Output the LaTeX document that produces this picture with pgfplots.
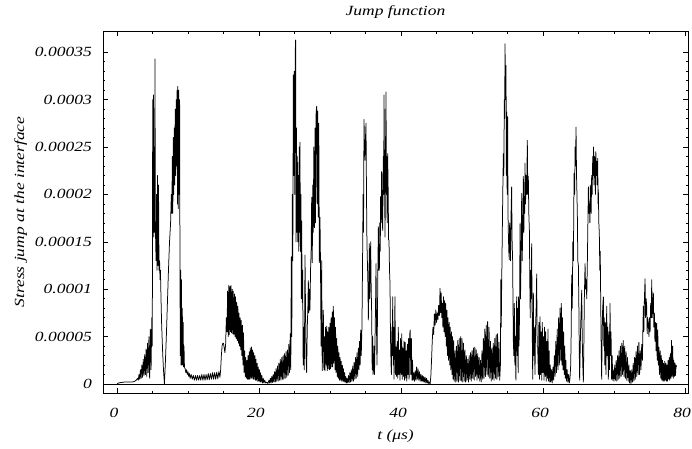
\documentclass[border=0pt]{standalone}
\usepackage{pgfplots}
\pgfplotsset{compat=1.18}
\usepackage{fontspec}
\setmainfont{Liberation Serif}[FakeStretch=1.25]
\begin{document}
\fontsize{14}{16}\selectfont
\begin{tikzpicture}
\begin{axis}[
  scale only axis, width=585pt, height=362pt,
  xmin=-1.97, xmax=80.42, ymin=-0.95e-5, ymax=37.24e-5,
  axis line style={black, line width=0.6pt},
  xtick={0,20,40,60,80}, xticklabels={0,20,40,60,80},
  minor x tick num=3,
  ytick={0,5e-5,10e-5,15e-5,20e-5,25e-5,30e-5,35e-5},
  yticklabels={0,0.00005,0.0001,0.00015,0.0002,0.00025,0.0003,0.00035},
  minor y tick num=4,
  scaled y ticks=false, scaled x ticks=false,
  tick align=inside, major tick length=5pt, minor tick length=2.5pt,
  tick style={black, line width=0.5pt},
  ticklabel style={font=\itshape},
  xticklabel style={anchor=base, inner sep=0pt, yshift=-24pt, xshift=-3pt},
  yticklabel style={anchor=east, inner sep=0pt, xshift=-11pt},
  title={Jump function},
  title style={font=\itshape, at={(rel axis cs:0.5,1)}, anchor=base, yshift=9pt},
  xlabel={t (μs)},
  xlabel style={font=\itshape, at={(rel axis cs:0.5,0)}, anchor=base, yshift=-46pt},
  ylabel={Stress jump at the interface},
  ylabel style={font=\itshape, at={(axis description cs:-0.135,0.5)}, anchor=base},
  extra y ticks={0}, extra y tick labels={},
  extra y tick style={grid=major, major grid style={black, line width=0.6pt}},
  clip=true,
]
\coordinate (ll) at (rel axis cs:0,0);
\coordinate (ur) at (rel axis cs:1,1);
\addplot[black, line width=0.75pt, line join=round] coordinates {
(0,0) (0.2,0.1e-5) (0.5,0.15e-5) (1.0,0.2e-5) (1.5,0.2e-5) (2.0,0.2e-5) (2.4,0.25e-5) (2.7,0.4e-5) (2.9,0.6e-5) (3.0,0.4e-5)
(3.1,1.0e-5) (3.2,0.5e-5) (3.3,1.5e-5) (3.4,0.6e-5) (3.5,2.0e-5) (3.6,0.7e-5) (3.7,2.6e-5) (3.8,0.9e-5) (3.9,3.1e-5) (4.0,1.0e-5) (4.1,3.7e-5) (4.2,0.8e-5) (4.3,4.3e-5) (4.4,1.2e-5) (4.5,5.0e-5) (4.6,0.6e-5) (4.7,5.8e-5) (4.8,1.5e-5) (4.9,7.0e-5)
(4.97,4e-5) (5.0,15e-5) (5.03,30e-5) (5.08,16e-5) (5.13,30.5e-5) (5.18,15.5e-5) (5.25,25e-5) (5.3,16e-5) (5.35,34.3e-5) (5.4,17e-5) (5.5,13e-5) (5.58,20e-5) (5.65,12e-5) (5.7,22e-5) (5.78,12.5e-5) (5.85,21e-5) (5.92,12e-5) (6.0,13e-5) (6.06,11e-5) (6.12,12e-5) (6.2,9e-5) (6.28,6.5e-5) (6.35,5e-5) (6.45,3e-5) (6.55,1.5e-5) (6.68,0)
(6.8,2e-5) (6.95,5e-5) (7.1,8.5e-5) (7.25,12e-5) (7.4,15e-5) (7.55,17e-5) (7.65,20e-5) (7.72,18e-5) (7.8,24e-5) (7.86,18e-5) (7.93,26e-5) (8.0,20e-5) (8.07,27e-5) (8.14,21e-5) (8.2,29e-5) (8.27,22e-5) (8.34,30e-5) (8.4,23e-5) (8.47,31e-5) (8.52,19e-5) (8.57,31.4e-5) (8.63,18.5e-5) (8.7,31e-5) (8.76,20e-5) (8.82,30e-5) (8.87,12e-5) (8.92,3e-5) (8.97,12e-5) (9.02,2e-5) (9.08,11e-5) (9.13,2e-5) (9.2,8e-5) (9.26,2e-5) (9.32,6.5e-5) (9.38,1.8e-5) (9.44,4e-5) (9.5,1.8e-5)
(9.6,1.6e-5) (9.7,1.2e-5) (9.8,1.5e-5) (9.9,1.0e-5) (10.0,1.3e-5) (10.1,0.8e-5) (10.2,1.1e-5) (10.3,0.6e-5) (10.45,1.0e-5) (10.6,0.5e-5) (10.75,0.9e-5) (10.9,0.4e-5) (11.05,0.9e-5) (11.2,0.4e-5) (11.35,0.9e-5) (11.5,0.4e-5) (11.65,0.9e-5) (11.8,0.4e-5) (11.95,1.0e-5) (12.1,0.4e-5) (12.25,1.0e-5) (12.4,0.4e-5) (12.55,1.0e-5) (12.7,0.45e-5) (12.85,1.1e-5) (13.0,0.45e-5) (13.15,1.1e-5) (13.3,0.5e-5) (13.45,1.2e-5) (13.6,0.5e-5) (13.75,1.2e-5) (13.9,0.5e-5) (14.05,1.25e-5) (14.2,0.55e-5) (14.35,1.3e-5) (14.5,0.7e-5)
(14.6,1.5e-5) (14.7,3.0e-5) (14.8,4.0e-5) (14.9,4.3e-5) (15.0,4.3e-5) (15.1,3.8e-5) (15.2,3.3e-5) (15.3,4.2e-5) (15.4,7e-5)
(15.5,5.5e-5) (15.58,9.8e-5) (15.66,5e-5) (15.74,10.4e-5) (15.82,5.2e-5) (15.9,10.3e-5) (15.98,5.5e-5) (16.06,10.4e-5) (16.14,5.4e-5) (16.22,10.0e-5) (16.3,5.3e-5) (16.38,9.8e-5) (16.46,5.2e-5) (16.54,9.5e-5) (16.62,5.0e-5) (16.7,9.2e-5) (16.78,4.8e-5) (16.86,8.6e-5) (16.94,4.6e-5) (17.02,8.2e-5) (17.1,4.3e-5) (17.18,7.5e-5) (17.26,4.0e-5) (17.34,7.0e-5) (17.42,3.6e-5) (17.5,6.7e-5) (17.58,3.0e-5) (17.66,6.2e-5) (17.74,2.0e-5) (17.82,5.4e-5) (17.9,1.2e-5)
(17.98,3.5e-5) (18.06,0.8e-5) (18.14,2.8e-5) (18.22,0.6e-5) (18.3,2.5e-5) (18.38,0.5e-5) (18.46,3.0e-5) (18.54,0.5e-5) (18.62,3.4e-5) (18.7,0.5e-5) (18.78,3.8e-5) (18.86,0.6e-5) (18.94,3.9e-5) (19.02,0.6e-5) (19.1,3.6e-5) (19.18,0.5e-5) (19.26,3.3e-5) (19.34,0.5e-5) (19.42,3.0e-5) (19.5,0.4e-5) (19.58,2.6e-5) (19.66,0.4e-5) (19.74,2.2e-5) (19.82,0.3e-5) (19.9,1.8e-5) (19.98,0.3e-5) (20.06,1.5e-5) (20.14,0.2e-5) (20.22,1.2e-5) (20.3,0.2e-5) (20.4,0.9e-5) (20.5,0.1e-5) (20.6,0.6e-5) (20.7,0.1e-5) (20.8,0.4e-5) (20.95,0.1e-5) (21.1,0.2e-5) (21.25,0.05e-5)
(21.4,0.4e-5) (21.5,0.1e-5) (21.6,0.6e-5) (21.7,0.1e-5) (21.8,0.8e-5) (21.9,0.15e-5) (22.0,1.0e-5) (22.1,0.2e-5) (22.2,1.3e-5) (22.3,0.2e-5) (22.4,1.6e-5) (22.5,0.3e-5) (22.6,1.9e-5) (22.7,0.3e-5) (22.8,2.2e-5) (22.9,0.4e-5) (23.0,2.6e-5) (23.1,0.4e-5) (23.2,2.8e-5) (23.3,0.5e-5) (23.4,3.0e-5) (23.5,0.5e-5) (23.6,3.2e-5) (23.7,0.6e-5) (23.8,3.4e-5) (23.9,0.7e-5) (24.0,3.6e-5) (24.1,0.9e-5) (24.2,4.2e-5) (24.3,1.2e-5) (24.4,5.3e-5) (24.48,1.5e-5)
(24.55,13.4e-5) (24.62,5e-5) (24.7,20e-5) (24.76,13e-5) (24.84,32.6e-5) (24.9,22e-5) (24.97,33e-5) (25.03,20e-5) (25.1,35e-5) (25.16,36.3e-5) (25.22,15e-5) (25.28,27e-5) (25.34,16e-5) (25.4,24e-5) (25.47,15e-5) (25.54,22e-5) (25.6,14e-5) (25.66,25e-5) (25.72,16e-5) (25.77,25.5e-5) (25.83,14e-5) (25.9,20e-5) (25.96,9e-5) (26.01,17.2e-5) (26.08,8.6e-5) (26.15,12e-5) (26.22,2e-5) (26.3,6e-5) (26.38,1.5e-5) (26.44,8e-5) (26.48,13.6e-5) (26.55,8e-5) (26.62,3e-5) (26.71,1.2e-5) (26.8,6e-5) (26.88,8e-5) (26.95,10.9e-5) (27.02,7.5e-5) (27.1,10e-5) (27.18,7.8e-5) (27.26,12e-5) (27.34,14e-5) (27.42,19.7e-5) (27.5,12.8e-5) (27.58,21e-5) (27.65,16e-5) (27.72,25e-5) (27.8,16.5e-5) (27.89,27e-5) (27.96,17e-5) (28.04,28.5e-5) (28.12,29.3e-5) (28.2,19e-5) (28.28,28.8e-5) (28.36,17.6e-5) (28.42,27.5e-5) (28.5,12.8e-5) (28.59,17.6e-5) (28.66,12.8e-5) (28.74,4e-5) (28.83,13e-5) (28.9,1.4e-5) (28.98,4e-5) (29.06,7.8e-5) (29.14,1.5e-5) (29.22,5e-5) (29.3,1.4e-5) (29.38,6e-5) (29.46,2e-5) (29.53,6.1e-5) (29.6,1.4e-5) (29.68,5.5e-5) (29.76,1.6e-5) (29.84,6.0e-5) (29.92,1.5e-5) (30.0,6.4e-5) (30.08,1.6e-5) (30.16,7.0e-5) (30.24,1.8e-5) (30.32,7.6e-5) (30.4,1.8e-5) (30.47,8.2e-5) (30.54,2.2e-5) (30.62,7.0e-5) (30.7,1.5e-5) (30.78,6.0e-5) (30.86,1.2e-5) (30.94,4.8e-5) (31.02,0.8e-5) (31.1,4.0e-5) (31.18,0.6e-5) (31.26,3.3e-5) (31.34,0.4e-5) (31.42,2.8e-5) (31.5,0.4e-5) (31.58,2.4e-5) (31.66,0.3e-5) (31.74,2.0e-5) (31.82,0.3e-5) (31.9,1.6e-5) (31.98,0.2e-5) (32.06,1.2e-5) (32.14,0.2e-5) (32.22,0.8e-5)
(32.3,0.1e-5) (32.4,0.6e-5) (32.5,0.1e-5) (32.6,0.9e-5) (32.7,0.15e-5) (32.8,1.2e-5) (32.9,0.2e-5) (33.0,1.5e-5) (33.1,0.3e-5) (33.2,1.9e-5) (33.3,0.3e-5) (33.4,2.3e-5) (33.5,0.5e-5) (33.6,2.8e-5) (33.7,0.6e-5) (33.8,3.3e-5) (33.9,0.8e-5) (34.0,3.8e-5) (34.08,1.5e-5) (34.16,4.5e-5) (34.24,2.0e-5) (34.32,5.7e-5)
(34.4,3e-5) (34.5,6e-5) (34.59,13.4e-5) (34.66,20e-5) (34.72,16e-5) (34.79,27.9e-5) (34.86,25e-5) (34.93,23.6e-5) (35.0,26e-5) (35.07,27.5e-5) (35.14,20e-5) (35.2,15e-5) (35.26,13.1e-5) (35.33,11.0e-5) (35.4,6.75e-5) (35.47,10e-5) (35.54,14.8e-5) (35.6,9e-5) (35.67,12e-5) (35.73,15.0e-5) (35.8,10e-5) (35.87,7.5e-5) (35.94,1.5e-5) (36.01,5.0e-5) (36.06,1.0e-5) (36.13,1.5e-5) (36.2,4e-5) (36.27,1.0e-5) (36.34,4.6e-5) (36.41,8e-5) (36.48,12.7e-5) (36.55,6e-5) (36.62,2e-5) (36.66,5.0e-5) (36.74,12e-5) (36.81,16.6e-5) (36.88,12e-5) (36.95,12.0e-5) (37.02,17e-5) (37.08,14e-5) (37.13,19.8e-5) (37.2,17e-5) (37.27,22.4e-5) (37.35,18e-5) (37.42,16.2e-5) (37.5,24e-5) (37.56,20e-5) (37.61,30.5e-5) (37.68,22e-5) (37.75,15.5e-5) (37.82,25e-5) (37.89,30.8e-5) (37.94,20e-5) (37.98,24e-5) (38.05,17e-5) (38.12,24.3e-5) (38.2,20e-5) (38.25,15.2e-5) (38.31,15.2e-5) (38.38,12e-5) (38.45,10.6e-5) (38.52,5e-5) (38.59,2.2e-5) (38.65,1e-5) (38.72,6e-5) (38.78,3e-5) (38.83,9.2e-5) (38.9,2e-5) (38.96,6e-5) (39.02,0.5e-5) (39.09,5e-5) (39.15,9.2e-5) (39.22,1e-5) (39.3,3.9e-5)
(39.38,0.8e-5) (39.46,4.5e-5) (39.54,0.6e-5) (39.62,6.0e-5) (39.7,1e-5) (39.78,3.6e-5) (39.86,0.4e-5) (39.94,4.8e-5) (40.02,1.0e-5) (40.1,5.3e-5) (40.18,0.5e-5) (40.26,3.8e-5) (40.34,0.8e-5) (40.42,4.5e-5) (40.5,0.4e-5) (40.58,4.4e-5) (40.66,0.6e-5) (40.74,3.5e-5) (40.82,0.3e-5) (40.9,4.2e-5) (40.98,1.0e-5) (41.06,4.8e-5) (41.14,0.5e-5) (41.22,5.2e-5) (41.3,5.7e-5) (41.38,1.0e-5) (41.46,4.8e-5) (41.54,0.4e-5) (41.62,2.5e-5) (41.7,0.4e-5)
(41.8,1.2e-5) (41.9,0.3e-5) (42.0,1.4e-5) (42.1,0.4e-5) (42.2,1.8e-5) (42.3,0.5e-5) (42.4,1.6e-5) (42.5,0.4e-5) (42.6,1.3e-5) (42.7,0.3e-5) (42.8,1.0e-5) (42.9,0.3e-5) (43.0,0.9e-5) (43.1,0.2e-5) (43.2,0.8e-5) (43.3,0.2e-5) (43.4,0.7e-5) (43.5,0.1e-5) (43.6,0.6e-5) (43.7,0.1e-5) (43.8,0.4e-5) (43.9,0.05e-5) (44.0,0.2e-5) (44.1,0)
(44.2,0.8e-5) (44.3,2.5e-5) (44.4,4.5e-5) (44.5,6e-5) (44.6,5.2e-5) (44.7,7.4e-5) (44.8,6.2e-5) (44.9,7.8e-5) (45.0,6.5e-5) (45.1,7.5e-5) (45.2,6.8e-5) (45.3,8.3e-5) (45.4,7.2e-5) (45.5,10.1e-5) (45.58,7.5e-5) (45.66,9.6e-5) (45.74,7e-5) (45.82,8.5e-5) (45.9,6e-5) (45.98,9.2e-5) (46.06,5.5e-5) (46.14,8.8e-5) (46.22,5e-5) (46.3,8.5e-5) (46.38,4e-5) (46.46,7.8e-5) (46.54,3e-5) (46.62,7.0e-5) (46.7,2.5e-5) (46.78,6.5e-5) (46.86,2e-5) (46.94,6.0e-5) (47.02,1.5e-5) (47.1,5.5e-5) (47.18,1.0e-5) (47.26,5.0e-5) (47.34,0.5e-5) (47.42,4.6e-5)
(47.5,0.3e-5) (47.6,3.5e-5) (47.7,0.2e-5) (47.8,4.0e-5) (47.9,0.3e-5) (48.0,4.6e-5) (48.1,0.2e-5) (48.2,4.8e-5) (48.3,0.4e-5) (48.4,5.0e-5) (48.5,0.3e-5) (48.6,4.8e-5) (48.7,0.2e-5) (48.8,4.3e-5) (48.9,0.3e-5) (49.0,3.6e-5) (49.1,0.2e-5) (49.2,3.0e-5) (49.3,0.4e-5) (49.4,2.6e-5) (49.5,0.2e-5) (49.6,3.0e-5) (49.7,0.5e-5) (49.8,3.3e-5) (49.9,0.3e-5) (50.0,3.5e-5) (50.1,0.6e-5) (50.2,3.8e-5) (50.3,0.4e-5) (50.4,3.9e-5) (50.5,0.8e-5) (50.6,3.6e-5) (50.7,0.4e-5) (50.8,3.2e-5) (50.9,0.6e-5) (51.0,2.8e-5) (51.1,0.3e-5) (51.2,2.5e-5) (51.3,0.2e-5) (51.4,3.5e-5) (51.5,0.5e-5) (51.6,4.8e-5) (51.7,0.6e-5) (51.8,5.8e-5) (51.9,0.8e-5) (52.0,6.2e-5) (52.1,1.0e-5) (52.2,6.6e-5) (52.3,0.8e-5) (52.4,6.0e-5) (52.5,0.6e-5) (52.6,4.5e-5) (52.7,0.3e-5) (52.8,3.8e-5) (52.9,0.5e-5) (53.0,4.3e-5) (53.1,0.4e-5) (53.2,4.8e-5) (53.3,0.6e-5) (53.4,5.2e-5) (53.5,0.5e-5) (53.6,5.3e-5) (53.7,0.8e-5) (53.8,4.4e-5) (53.9,0.4e-5)
(54.0,2e-5) (54.06,11.0e-5) (54.12,6e-5) (54.17,9.9e-5) (54.25,15e-5) (54.33,20e-5) (54.41,24.3e-5) (54.48,22e-5) (54.55,30e-5) (54.6,28e-5) (54.65,35.9e-5) (54.72,30e-5) (54.79,33.6e-5) (54.84,22e-5) (54.88,28.7e-5) (54.95,20e-5) (55.02,28.2e-5) (55.07,18e-5) (55.11,16.2e-5) (55.18,14e-5) (55.25,13.1e-5) (55.3,17e-5) (55.35,16.2e-5) (55.42,13e-5) (55.5,18e-5) (55.58,20.8e-5) (55.65,15e-5) (55.72,13.1e-5) (55.78,8e-5) (55.82,4.6e-5) (55.89,3e-5) (55.96,8.5e-5) (56.04,2e-5) (56.1,5e-5) (56.18,0.4e-5) (56.24,6e-5) (56.29,9.2e-5) (56.36,3e-5) (56.43,8e-5) (56.5,1.2e-5) (56.56,9.2e-5) (56.62,4e-5) (56.67,6.2e-5) (56.72,10e-5) (56.76,16.9e-5) (56.83,9e-5) (56.9,12.7e-5) (56.95,17e-5) (57.0,20.1e-5) (57.07,13e-5) (57.14,16.2e-5) (57.19,19e-5) (57.23,21.9e-5) (57.3,16e-5) (57.37,19.8e-5) (57.42,18e-5) (57.46,23.3e-5) (57.54,19e-5) (57.61,22e-5) (57.7,20e-5) (57.79,25.7e-5) (57.86,20e-5) (57.93,21.9e-5) (58.0,18e-5) (58.08,16.2e-5) (58.15,10e-5) (58.2,7e-5) (58.26,12e-5) (58.33,9e-5) (58.4,14.8e-5) (58.48,6e-5) (58.55,0.5e-5) (58.6,5e-5) (58.64,9.6e-5) (58.7,3e-5) (58.78,6e-5) (58.87,1.0e-5) (58.95,6e-5) (59.03,8e-5) (59.11,11.6e-5) (59.18,4e-5) (59.25,3.9e-5)
(59.35,1.0e-5) (59.42,6.5e-5) (59.5,0.5e-5) (59.58,7.1e-5) (59.66,1.0e-5) (59.74,5.5e-5) (59.82,0.4e-5) (59.9,6.5e-5) (59.98,1.2e-5) (60.06,5.0e-5) (60.14,0.4e-5) (60.22,6.0e-5) (60.3,0.8e-5) (60.38,5.5e-5) (60.46,0.3e-5) (60.54,4.5e-5) (60.62,0.6e-5) (60.7,5.8e-5) (60.78,0.3e-5) (60.86,3.5e-5) (60.94,0.2e-5) (61.02,2.0e-5) (61.1,0.2e-5) (61.2,1.5e-5) (61.3,0.1e-5) (61.4,1.8e-5) (61.5,0.4e-5) (61.6,3.0e-5) (61.7,0.8e-5) (61.8,4.5e-5) (61.9,1.2e-5) (62.0,5.8e-5) (62.1,1.5e-5) (62.2,7.0e-5) (62.3,2.0e-5) (62.4,8.0e-5) (62.5,2.5e-5) (62.58,8.5e-5) (62.66,2.0e-5) (62.74,7.0e-5) (62.82,1.5e-5) (62.9,5.5e-5) (62.98,1.0e-5) (63.06,4.0e-5) (63.14,0.6e-5) (63.22,2.5e-5) (63.3,0.3e-5) (63.4,1.5e-5) (63.5,0.2e-5) (63.6,1.0e-5) (63.7,0.1e-5) (63.8,0.6e-5)
(63.9,2e-5) (63.96,5.0e-5) (64.04,11.5e-5) (64.12,8e-5) (64.2,15e-5) (64.28,13e-5) (64.37,22.2e-5) (64.45,20e-5) (64.52,25e-5) (64.58,23e-5) (64.65,27.1e-5) (64.72,22e-5) (64.78,20e-5) (64.84,17.6e-5) (64.9,13e-5) (64.98,12.5e-5) (65.05,8.1e-5) (65.1,3.9e-5) (65.16,0.4e-5) (65.22,3e-5) (65.3,6e-5) (65.38,8e-5) (65.45,9.9e-5) (65.52,5e-5) (65.6,2e-5) (65.68,0.2e-5) (65.75,4e-5) (65.82,9e-5) (65.92,12.7e-5) (66.0,10e-5) (66.08,11e-5) (66.16,9e-5) (66.25,13.1e-5) (66.32,17e-5) (66.39,20.8e-5) (66.46,18e-5) (66.53,19e-5) (66.6,17e-5) (66.66,21e-5) (66.71,20.1e-5) (66.78,18e-5) (66.85,22e-5) (66.92,20e-5) (67.0,24.0e-5) (67.06,22e-5) (67.12,25e-5) (67.18,21e-5) (67.25,24e-5) (67.32,23.6e-5) (67.38,20e-5) (67.44,24.5e-5) (67.5,22e-5) (67.56,23.5e-5) (67.62,21e-5) (67.7,23.8e-5) (67.76,19e-5) (67.79,20.5e-5) (67.86,17e-5) (67.93,15.9e-5) (68.0,12e-5) (68.06,14e-5) (68.12,9.2e-5) (68.19,4e-5) (68.26,0.5e-5) (68.33,5e-5) (68.4,8e-5) (68.5,9.2e-5) (68.56,4e-5) (68.62,7e-5) (68.7,2e-5) (68.78,6.5e-5) (68.86,1e-5) (68.97,8.2e-5) (69.04,3e-5) (69.12,6e-5) (69.2,0.5e-5) (69.28,5.5e-5) (69.36,1.5e-5) (69.44,8.5e-5) (69.5,3e-5) (69.58,5.5e-5) (69.66,0.5e-5) (69.74,3e-5) (69.82,0.4e-5)
(69.9,1.5e-5) (70.0,0.3e-5) (70.1,2.0e-5) (70.2,0.4e-5) (70.3,2.5e-5) (70.4,0.3e-5) (70.5,3.0e-5) (70.6,0.5e-5) (70.7,3.5e-5) (70.8,0.6e-5) (70.9,4.0e-5) (71.0,0.8e-5) (71.1,4.3e-5) (71.2,1.0e-5) (71.3,4.6e-5) (71.4,0.8e-5) (71.5,4.0e-5) (71.6,0.6e-5) (71.7,3.4e-5) (71.8,0.4e-5) (71.9,2.8e-5) (72.0,0.3e-5) (72.1,2.0e-5) (72.2,0.1e-5) (72.3,1.4e-5) (72.4,0.05e-5) (72.5,1.5e-5) (72.6,0.2e-5) (72.7,2.2e-5) (72.8,0.3e-5) (72.9,2.8e-5) (73.0,0.5e-5) (73.1,3.4e-5) (73.2,0.8e-5) (73.3,4.0e-5) (73.4,1.0e-5) (73.5,4.4e-5) (73.6,1.0e-5) (73.7,3.5e-5) (73.8,1.5e-5)
(73.9,4.2e-5) (74.0,2.5e-5) (74.07,6e-5) (74.13,8.2e-5) (74.2,5.5e-5) (74.28,9e-5) (74.37,11.1e-5) (74.44,7e-5) (74.52,9e-5) (74.6,8.2e-5) (74.67,5.3e-5) (74.74,7e-5) (74.84,6.4e-5) (74.92,5e-5) (75.0,7e-5) (75.08,5.5e-5) (75.16,8.5e-5) (75.24,7e-5) (75.31,11.0e-5) (75.38,7e-5) (75.46,8.5e-5) (75.54,9.6e-5) (75.6,6e-5) (75.68,7.5e-5) (75.76,4.5e-5) (75.84,6.5e-5) (75.92,3.5e-5) (76.0,6.4e-5) (76.08,2.5e-5) (76.16,5.7e-5) (76.25,2.0e-5) (76.32,3.9e-5) (76.4,1.0e-5) (76.5,3.5e-5) (76.58,0.6e-5) (76.66,3.0e-5) (76.74,0.4e-5) (76.82,2.5e-5) (76.9,0.3e-5) (76.98,2.2e-5) (77.06,0.3e-5) (77.14,2.4e-5) (77.22,0.4e-5) (77.3,2.2e-5) (77.38,0.3e-5) (77.46,2.0e-5) (77.54,0.3e-5) (77.62,2.5e-5) (77.7,0.5e-5) (77.78,2.8e-5) (77.86,0.4e-5) (77.94,3.2e-5) (78.02,0.6e-5) (78.1,4.6e-5) (78.18,0.8e-5) (78.26,4.0e-5) (78.34,0.6e-5) (78.42,2.5e-5) (78.5,0.8e-5) (78.58,2.2e-5) (78.66,0.9e-5) (78.74,2.0e-5) (78.8,1.8e-5)
};
\end{axis}
\path (ll) ++(-103pt,-55pt) coordinate (bbA);
\path (ur) ++(4pt,31pt) coordinate (bbB);
\pgfresetboundingbox
\path[use as bounding box] (bbA) rectangle (bbB);
\end{tikzpicture}
\end{document}
